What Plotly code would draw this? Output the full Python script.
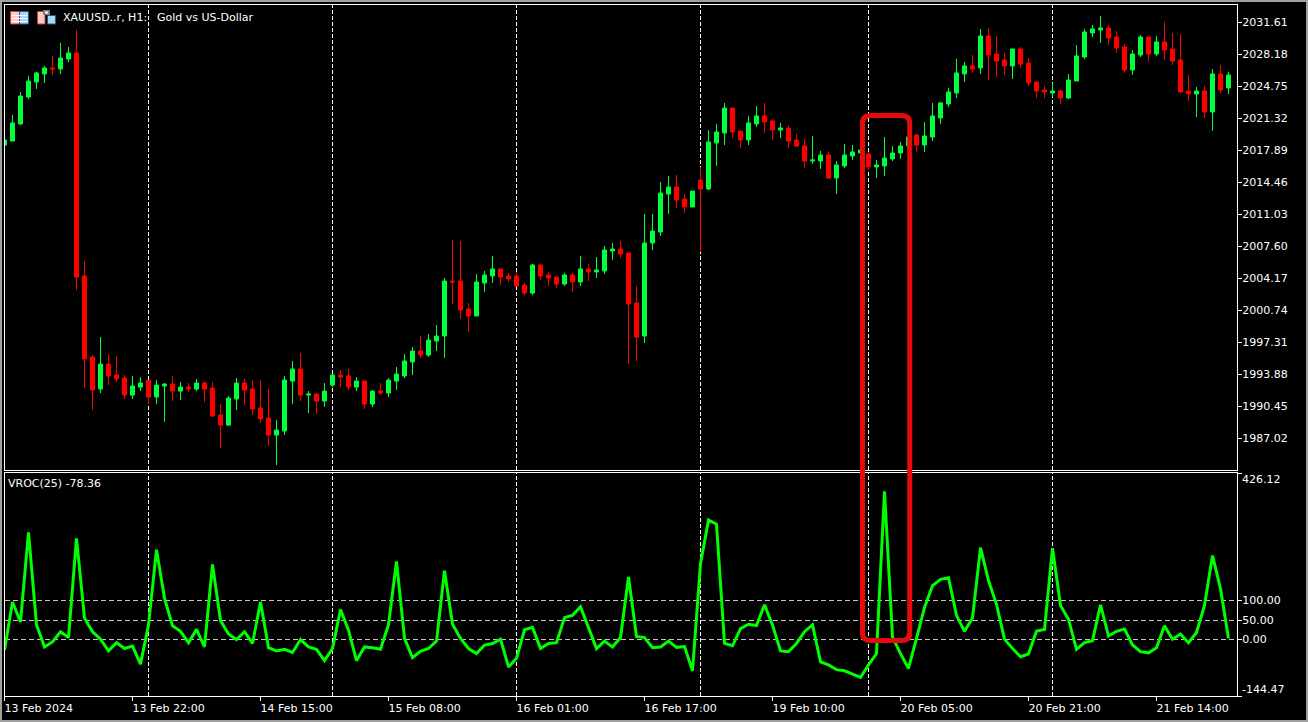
import plotly.graph_objects as go

# chart values
bar_idx = list(range(154))

opens = [
    2018.45, 2018.88, 2020.71, 2023.60, 2025.21, 2026.07, 2026.71, 2026.60, 2027.68, 2028.32, 2004.42,
    1995.73, 1992.30, 1994.98, 1993.80, 1993.48, 1991.65, 1992.51, 1993.26, 1991.44, 1992.62, 1992.83,
    1992.08, 1992.51, 1992.30, 1992.94, 1992.40, 1989.51, 1988.44, 1991.23, 1992.94, 1992.30, 1990.26,
    1989.19, 1987.36, 1987.79, 1993.15, 1994.45, 1991.65, 1991.76, 1991.01, 1992.72, 1993.80, 1993.70,
    1992.51, 1993.15, 1990.69, 1992.08, 1991.87, 1993.15, 1993.70, 1995.20, 1996.37, 1995.94, 1997.44,
    1997.98, 2003.87, 2003.87, 2000.88, 2000.13, 2003.66, 2004.42, 2005.17, 2004.42, 2004.42, 2003.44,
    2002.59, 2005.59, 2004.52, 2004.31, 2003.55, 2004.52, 2003.77, 2005.17, 2004.85, 2004.95, 2007.09,
    2007.31, 2006.88, 2001.52, 1997.98, 2007.95, 2009.13, 2013.20, 2013.95, 2012.67, 2011.81, 2014.70,
    2013.74, 2018.67, 2019.74, 2022.42, 2019.95, 2018.99, 2020.71, 2021.57, 2021.03, 2020.06, 2020.28,
    2018.99, 2018.35, 2016.74, 2016.74, 2017.38, 2014.92, 2016.21, 2017.28, 2017.60, 2017.49, 2016.10,
    2016.21, 2016.96, 2017.60, 2018.35, 2019.53, 2018.45, 2019.31, 2021.35, 2022.85, 2024.03, 2026.07,
    2026.93, 2026.71, 2030.14, 2028.21, 2027.57, 2026.93, 2028.75, 2027.25, 2025.21, 2024.35, 2024.03,
    2024.24, 2023.49, 2025.31, 2027.89, 2030.46, 2030.78, 2031.00, 2030.03, 2028.96, 2026.50, 2028.10,
    2030.03, 2028.21, 2029.50, 2028.75, 2027.57, 2024.24, 2023.92, 2024.24, 2021.99, 2026.07, 2024.57,
]
highs = [
    2018.99, 2021.67, 2024.14, 2025.86, 2026.29, 2026.93, 2028.00, 2029.39, 2028.96, 2030.78, 2006.02,
    1995.94, 1997.87, 1996.05, 1995.84, 1993.80, 1993.70, 1993.59, 1993.26, 1993.26, 1992.94, 1993.70,
    1993.05, 1992.94, 1993.38, 1993.05, 1993.05, 1990.69, 1991.55, 1993.48, 1993.38, 1993.26, 1993.26,
    1992.30, 1988.98, 1993.70, 1995.30, 1996.16, 1992.08, 1991.87, 1992.94, 1993.91, 1994.34, 1994.45,
    1993.59, 1993.26, 1992.19, 1992.94, 1993.48, 1994.66, 1996.05, 1996.80, 1997.98, 1998.19, 1999.16,
    2004.20, 2008.27, 2008.16, 2001.52, 2004.63, 2004.95, 2006.56, 2005.17, 2004.74, 2004.85, 2003.66,
    2005.70, 2005.70, 2004.85, 2004.31, 2004.74, 2004.74, 2006.56, 2005.70, 2006.45, 2007.63, 2007.95,
    2008.16, 2006.99, 2003.34, 2011.06, 2011.06, 2014.49, 2015.14, 2015.24, 2013.20, 2013.52, 2016.10,
    2020.06, 2020.71, 2022.96, 2022.42, 2019.95, 2021.57, 2022.64, 2022.96, 2021.25, 2020.82, 2020.60,
    2019.63, 2019.10, 2019.42, 2017.81, 2017.71, 2016.74, 2018.56, 2018.45, 2018.13, 2017.71, 2016.85,
    2019.31, 2018.35, 2018.78, 2019.53, 2019.63, 2020.93, 2022.96, 2023.07, 2024.56, 2027.68, 2027.36,
    2028.10, 2030.90, 2031.00, 2030.14, 2028.32, 2028.75, 2028.96, 2027.78, 2025.21, 2024.78, 2025.10,
    2024.35, 2026.07, 2029.17, 2030.90, 2031.32, 2032.29, 2031.32, 2030.67, 2029.28, 2028.64, 2030.25,
    2030.14, 2030.14, 2031.65, 2030.46, 2030.35, 2025.96, 2024.67, 2024.78, 2026.60, 2027.03, 2026.29,
]
lows = [
    2018.45, 2018.88, 2020.60, 2023.39, 2024.46, 2025.10, 2025.96, 2026.07, 2027.36, 2002.91, 1992.40,
    1990.05, 1991.87, 1992.72, 1993.05, 1991.23, 1991.23, 1992.08, 1990.69, 1990.69, 1988.77, 1991.01,
    1991.12, 1991.98, 1992.08, 1990.91, 1989.30, 1985.97, 1988.34, 1990.05, 1990.58, 1989.51, 1988.66,
    1986.19, 1984.15, 1987.36, 1990.69, 1991.01, 1989.73, 1989.62, 1990.37, 1992.51, 1992.51, 1992.19,
    1992.08, 1990.16, 1990.37, 1991.65, 1991.44, 1992.19, 1993.48, 1993.80, 1995.62, 1995.73, 1996.37,
    1995.62, 2001.41, 1999.81, 1998.41, 2000.13, 2002.70, 2003.66, 2003.44, 2003.77, 2003.34, 2002.37,
    2002.37, 2003.98, 2003.34, 2003.12, 2003.34, 2002.70, 2003.34, 2003.87, 2004.20, 2004.63, 2006.13,
    2006.34, 1994.98, 1995.30, 1997.23, 2007.20, 2008.70, 2011.06, 2011.70, 2011.17, 2011.81, 2006.99,
    2013.63, 2016.21, 2018.45, 2019.20, 2018.13, 2018.45, 2020.39, 2019.74, 2018.99, 2019.20, 2018.13,
    2018.24, 2015.99, 2016.42, 2015.89, 2014.81, 2013.20, 2015.99, 2016.85, 2017.38, 2015.78, 2014.92,
    2015.14, 2016.74, 2016.96, 2018.24, 2017.71, 2017.71, 2018.88, 2020.71, 2022.53, 2023.49, 2025.21,
    2026.18, 2026.07, 2025.42, 2025.75, 2025.96, 2025.53, 2026.71, 2024.78, 2023.49, 2023.49, 2023.60,
    2022.85, 2023.39, 2025.31, 2027.68, 2030.03, 2029.39, 2029.17, 2028.32, 2026.18, 2025.96, 2027.89,
    2027.36, 2028.00, 2027.57, 2027.03, 2024.03, 2023.17, 2021.46, 2021.35, 2019.96, 2024.03, 2023.92,
]
closes = [
    2018.99, 2020.82, 2023.71, 2025.31, 2026.18, 2026.71, 2026.60, 2027.78, 2028.32, 2004.31, 1995.52,
    1992.19, 1994.98, 1993.70, 1993.38, 1991.65, 1992.62, 1992.94, 1991.44, 1992.72, 1992.83, 1992.08,
    1992.51, 1992.30, 1992.94, 1992.30, 1989.41, 1988.44, 1991.33, 1992.94, 1992.19, 1990.16, 1989.09,
    1987.36, 1987.90, 1993.26, 1994.45, 1991.65, 1991.76, 1991.01, 1992.08, 1993.80, 1993.59, 1992.51,
    1993.15, 1990.69, 1992.08, 1991.87, 1993.26, 1993.91, 1995.30, 1996.37, 1995.94, 1997.55, 1997.98,
    2003.87, 2003.77, 2000.77, 2000.13, 2003.77, 2004.52, 2005.17, 2004.31, 2004.10, 2003.34, 2002.59,
    2005.59, 2004.42, 2004.20, 2003.55, 2004.52, 2003.77, 2005.17, 2004.85, 2005.06, 2007.20, 2007.31,
    2006.77, 2001.41, 1997.87, 2007.95, 2009.23, 2013.31, 2013.95, 2012.56, 2011.81, 2013.52, 2013.74,
    2018.78, 2019.85, 2022.42, 2019.85, 2018.99, 2020.82, 2021.57, 2020.93, 2020.06, 2020.28, 2018.88,
    2018.35, 2016.74, 2016.85, 2017.38, 2014.92, 2016.31, 2017.38, 2017.71, 2017.92, 2016.10, 2016.31,
    2017.06, 2017.60, 2018.35, 2019.31, 2018.45, 2019.42, 2021.57, 2022.96, 2024.14, 2026.18, 2026.93,
    2026.60, 2030.14, 2028.10, 2027.46, 2026.93, 2028.75, 2027.14, 2025.10, 2024.24, 2024.14, 2024.24,
    2023.49, 2025.42, 2028.00, 2030.57, 2030.90, 2031.00, 2029.92, 2028.85, 2026.50, 2028.21, 2030.03,
    2028.21, 2029.50, 2028.64, 2027.46, 2024.14, 2023.92, 2024.24, 2021.99, 2026.07, 2024.35, 2025.96,
]

vroc = [
    -27, 96, 45, 274, 38, -19, -6, 20, 5, 259, 55, 20, 1, -29, -8, -23, -17, -63, 37, 230, 106, 35, 21, -8, 26,
    -19, 192, 49, 14, 0, 20, -10, 96, -21, -29, -25, -33, 0, -19, -25, -54, -23, 77, 24, -54, -19, -21, -25, 38,
    200, 3, -46, -30, -23, -4, 176, 39, 3, -23, -36, -14, -10, 1, -70, -48, 25, 31, -23, -10, -8, 56, 62, 84, 28,
    -23, -4, -19, 5, 160, 8, 5, -21, -19, -4, -20, -18, -80, 194, 306, 295, -10, -16, 28, 39, 36, 89, 37, -29,
    -31, -10, 20, 38, -57, -65, -77, -80, -88, -97, -65, -36, 379, 7, -36, -74, 3, 82, 138, 154, 158, 62, 21, 55,
    235, 151, 90, 1, -23, -44, -37, 22, 26, 234, 87, 52, -25, -8, -3, 89, 9, 21, 27, -14, -31, -34, -21, 35, 1,
    14, -8, 18, 87, 215, 130, 3,
]

price_ticks = [2031.61, 2028.18, 2024.75, 2021.32, 2017.89, 2014.46, 2011.03, 2007.60, 2004.17, 2000.74,
               1997.31, 1993.88, 1990.45, 1987.02]
vroc_ticks = [426.12, 100.00, 50.00, 0.00, -144.47]
time_tick_idx = [0, 16, 32, 48, 64, 80, 96, 112, 128, 144]
time_tick_text = ["13 Feb 2024", "13 Feb 22:00", "14 Feb 15:00", "15 Feb 08:00", "16 Feb 01:00",
                  "16 Feb 17:00", "19 Feb 10:00", "20 Feb 05:00", "20 Feb 21:00", "21 Feb 14:00"]
day_sep_idx = [18, 41, 64, 87, 108, 131]

W, H = 1308, 722
FONT = "DejaVu Sans"
GREEN = "#00ff3c"
RED = "#ff0000"


def px(x):
    return x / W


def py(y):
    return 1 - y / H


fig = go.Figure()

fig.add_trace(go.Candlestick(
    x=bar_idx, open=opens, high=highs, low=lows, close=closes,
    increasing=dict(line=dict(color=GREEN, width=1), fillcolor=GREEN),
    decreasing=dict(line=dict(color=RED, width=1), fillcolor=RED),
    whiskerwidth=0, xaxis="x", yaxis="y", showlegend=False,
))
fig.add_trace(go.Scatter(
    x=bar_idx, y=vroc, mode="lines", line=dict(color="#00ff00", width=3),
    xaxis="x2", yaxis="y2", showlegend=False,
))

x_range = [0, (1237 - 4.5) / 8]
x_domain = [px(4.5), px(1237)]

fig.update_layout(
    width=W, height=H,
    margin=dict(l=0, r=0, t=0, b=0),
    paper_bgcolor="#000000", plot_bgcolor="#000000",
    boxgap=0.5, boxgroupgap=0,
    font=dict(family=FONT, size=11, color="#ffffff"),
    xaxis=dict(
        domain=x_domain, range=x_range, anchor="y",
        rangeslider=dict(visible=False), showgrid=False, zeroline=False,
        showticklabels=False, ticks="", showline=True, linecolor="#ffffff", linewidth=1, mirror=True,
    ),
    yaxis=dict(
        domain=[py(470), py(5)], range=[1983.62, 2033.46], side="right", anchor="x",
        tickvals=price_ticks, ticktext=[f"{v:.2f}" for v in price_ticks], ticklabelstandoff=-2,
        ticks="outside", ticklen=4, tickcolor="#ffffff", showgrid=False, zeroline=False,
        showline=True, linecolor="#ffffff", linewidth=1, mirror=True,
    ),
    xaxis2=dict(
        domain=x_domain, range=x_range, anchor="y2",
        tickvals=time_tick_idx, ticktext=time_tick_text, ticklabelposition="outside right",
        ticklabelstandoff=2, ticklabelshift=-1,
        ticks="outside", ticklen=4, tickcolor="#ffffff", showgrid=False, zeroline=False,
        showline=True, linecolor="#ffffff", linewidth=1, mirror=True,
    ),
    yaxis2=dict(
        domain=[py(696), py(473)], range=[-144.47, 426.12], side="right", anchor="x2",
        tickvals=vroc_ticks, ticktext=["", "100.00", "50.00", "0.00", ""], ticklabelstandoff=-2,
        ticks="outside", ticklen=4, tickcolor="#ffffff", zeroline=False,
        showgrid=True, gridcolor="#c8c8c8", griddash="5px,3px", gridwidth=1,
        showline=True, linecolor="#ffffff", linewidth=1, mirror=True,
    ),
)

# period separators run through both panels
for idx in day_sep_idx:
    for xref, yref in (("x", "y domain"), ("x2", "y2 domain")):
        fig.add_shape(type="line", x0=idx, x1=idx, y0=0, y1=1, xref=xref, yref=yref, layer="below",
                      line=dict(color="#ffffff", width=1, dash="4px,2px"))

# highlight box drawn over the chart
box_l, box_r, box_t, box_b, r = 862.5, 909.7, 115.5, 640.5, 8
box_path = (
    f"M {px(box_l)} {py(box_t + r)} Q {px(box_l)} {py(box_t)} {px(box_l + r)} {py(box_t)} "
    f"L {px(box_r - r)} {py(box_t)} Q {px(box_r)} {py(box_t)} {px(box_r)} {py(box_t + r)} "
    f"L {px(box_r)} {py(box_b - r)} Q {px(box_r)} {py(box_b)} {px(box_r - r)} {py(box_b)} "
    f"L {px(box_l + r)} {py(box_b)} Q {px(box_l)} {py(box_b)} {px(box_l)} {py(box_b - r)} Z"
)
fig.add_shape(type="path", path=box_path, xref="paper", yref="paper", line=dict(color="#e60a0a", width=5))

# window frame
fig.add_shape(type="rect", x0=0, x1=1, y0=0, y1=1, xref="paper", yref="paper",
              line=dict(color="#a0a0a0", width=4))


def icon_rect(x0, y0, x1, y1, fill, line=None):
    fig.add_shape(type="rect", x0=px(x0), x1=px(x1), y0=py(y1), y1=py(y0), xref="paper", yref="paper",
                  fillcolor=fill, line=dict(color=line or fill, width=1 if line else 0))


# the two small toolbar icons next to the symbol name
icon_rect(10.5, 11.5, 19.5, 24, "#ffc8c8", "#c83c3c")
icon_rect(19.5, 11.5, 28.5, 24, "#a8d8f8", "#1e5c96")
for row in (15, 18, 21):
    icon_rect(12, row, 27, row + 1, "#ffffff")
icon_rect(37.5, 11.5, 45, 24, "#ffc8c8", "#c83c3c")
icon_rect(47.5, 15.5, 55.5, 24, "#a8d8f8", "#1e5c96")
icon_rect(43, 10, 50, 15, "#808080")
icon_rect(45, 11.5, 48, 13.5, "#ffffff")


def note(text, x, y):
    fig.add_annotation(text=text, x=px(x), y=py(y), xref="paper", yref="paper", showarrow=False,
                       xanchor="left", yanchor="middle", font=dict(family=FONT, size=11, color="#ffffff"))


note("XAUUSD..r, H1:", 61, 18)
note("Gold vs US-Dollar", 155, 18)
note("VROC(25) -78.36", 6, 483)
note("426.12", 1240, 479)
note("-144.47", 1240, 689)

fig.write_html("out.html", config={"displayModeBar": False}, post_script="document.body.style.margin='0';")
